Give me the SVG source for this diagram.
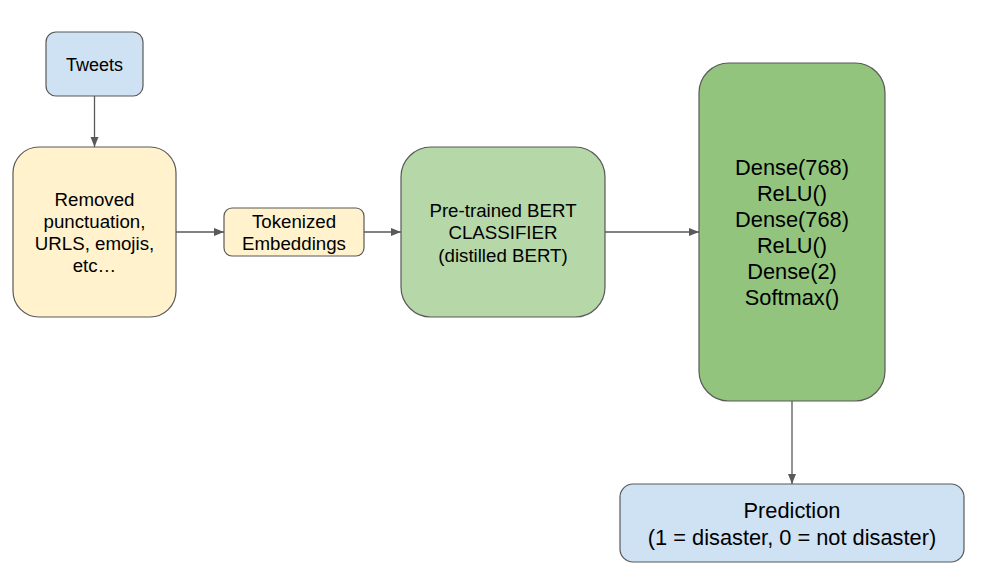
<svg xmlns="http://www.w3.org/2000/svg" width="987" height="581" viewBox="0 0 987 581">
<defs>
<marker id="arr" viewBox="0 0 10 10" refX="10" refY="5" markerWidth="10" markerHeight="10" markerUnits="userSpaceOnUse" orient="auto">
<path d="M0,1 L10,5 L0,9 Z" fill="#595959"/>
</marker>
</defs>
<style>
.n{stroke:#595959;stroke-width:1.2}
.t{font-family:Arial,"Liberation Sans",sans-serif;fill:#000;text-anchor:middle}
.c{stroke:#595959;stroke-width:1.3;fill:none;marker-end:url(#arr)}
</style>
<rect width="987" height="581" fill="#fff"/>
<g id="tweets"><rect class="n" x="46" y="32" width="97" height="64" rx="10" fill="#cfe2f3"/><text class="t" x="94.5" y="71" font-size="18">Tweets</text></g>
<g id="clean"><rect class="n" x="13" y="147" width="163" height="170" rx="26" fill="#fff2cc"/>
<text class="t" font-size="18.7"><tspan x="94.5" y="206">Removed</tspan><tspan x="94.5" y="228">punctuation,</tspan><tspan x="94.5" y="250">URLS, emojis,</tspan><tspan x="94.5" y="272">etc…</tspan></text></g>
<g id="tok"><rect class="n" x="224" y="208" width="140" height="48" rx="8" fill="#fff2cc"/>
<text class="t" font-size="18.7"><tspan x="294" y="228">Tokenized</tspan><tspan x="294" y="250">Embeddings</tspan></text></g>
<g id="bert"><rect class="n" x="401" y="147" width="204" height="170" rx="30" fill="#b6d7a8"/>
<text class="t" font-size="18.7"><tspan x="503" y="217">Pre-trained BERT</tspan><tspan x="503" y="239">CLASSIFIER</tspan><tspan x="503" y="262">(distilled BERT)</tspan></text></g>
<g id="dense"><rect class="n" x="699" y="63" width="186" height="338" rx="30" fill="#93c47d"/>
<text class="t" font-size="21.8"><tspan x="792" y="175">Dense(768)</tspan><tspan x="792" y="201">ReLU()</tspan><tspan x="792" y="227">Dense(768)</tspan><tspan x="792" y="253">ReLU()</tspan><tspan x="792" y="279">Dense(2)</tspan><tspan x="792" y="305">Softmax()</tspan></text></g>
<g id="pred"><rect class="n" x="620" y="484" width="344" height="78" rx="13" fill="#cfe2f3"/>
<text class="t" font-size="21.8"><tspan x="792" y="518">Prediction</tspan><tspan x="792" y="545">(1 = disaster, 0 = not disaster)</tspan></text></g>
<g id="connectors">
<line class="c" x1="94.5" y1="96" x2="94.5" y2="147"/>
<line class="c" x1="176" y1="232" x2="224" y2="232"/>
<line class="c" x1="364" y1="232" x2="401" y2="232"/>
<line class="c" x1="605" y1="232" x2="699" y2="232"/>
<line class="c" x1="792" y1="401" x2="792" y2="484"/>
</g>
</svg>
